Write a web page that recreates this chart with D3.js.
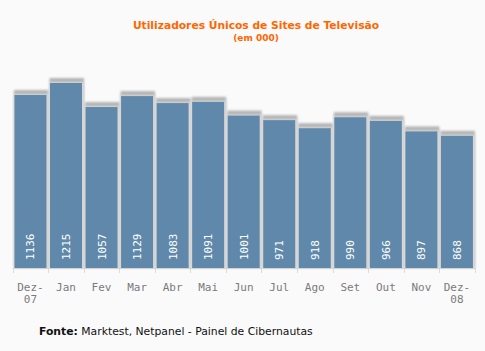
<!DOCTYPE html>
<html>
<head>
<meta charset="utf-8">
<script src="https://cdn.jsdelivr.net/npm/d3@7"></script>
<style>
    html, body { margin: 0; padding: 0; background: #fafafa; }
    svg { display: block; }
</style>
</head>
<body>
<svg id="chart" width="485" height="351"></svg>
<script>
(function () {

    let months = ["Dez-07", "Jan", "Fev", "Mar", "Abr", "Mai", "Jun", "Jul", "Ago", "Set", "Out", "Nov", "Dez-08"];
    let users = [1136, 1215, 1057, 1129, 1083, 1091, 1001, 971, 918, 990, 966, 897, 868];

    let data = months.map((m, i) => ({ month: m, value: users[i] }));

    let canvas = d3.select("#chart");
    let width = +canvas.attr("width");

    canvas.append("rect")
        .attr("width", width)
        .attr("height", +canvas.attr("height"))
        .attr("fill", "#fafafa");

    let defs = canvas.append("defs");
    defs.append("filter")
        .attr("id", "soft")
        .attr("x", "-20%").attr("y", "-20%")
        .attr("width", "140%").attr("height", "140%")
        .append("feGaussianBlur")
        .attr("stdDeviation", 1.3);

    let xScale = d3.scaleBand()
        .domain(months)
        .range([12.7, 474.7])
        .paddingInner(0.1)
        .paddingOuter(0.05);

    let yScale = d3.scaleLinear()
        .domain([0, 1215])
        .range([268, 83]);

    // title
    canvas.append("text")
        .attr("x", 256)
        .attr("y", 29)
        .attr("text-anchor", "middle")
        .attr("font-family", "DejaVu Sans")
        .attr("font-weight", "bold")
        .attr("font-size", 10.7)
        .attr("fill", "#ff6600")
        .text("Utilizadores Únicos de Sites de Televisão");

    canvas.append("text")
        .attr("x", 256)
        .attr("y", 41)
        .attr("text-anchor", "middle")
        .attr("font-family", "DejaVu Sans")
        .attr("font-weight", "bold")
        .attr("font-size", 9)
        .attr("fill", "#ff6600")
        .text("(em 000)");

    // axis line and ticks
    let gAxis = canvas.append("g").attr("stroke", "#dcdcdc").attr("stroke-width", 1);
    gAxis.append("line")
        .attr("x1", 12.7).attr("x2", 474.7)
        .attr("y1", 268.5).attr("y2", 268.5);
    let tickPos = months.map(m => xScale(m) - xScale.step() * xScale.paddingInner() / 2);
    tickPos.push(474.7);
    gAxis.selectAll("line.tick")
        .data(tickPos)
        .enter()
        .append("line")
        .attr("class", "tick")
        .attr("x1", d => Math.round(d) + 0.5).attr("x2", d => Math.round(d) + 0.5)
        .attr("y1", 268).attr("y2", 273);

    // shadows
    canvas.append("g")
        .selectAll("rect")
        .data(data)
        .enter()
        .append("rect")
        .attr("x", d => xScale(d.month) - 0.5)
        .attr("y", d => yScale(d.value) - 5)
        .attr("width", xScale.bandwidth() + 2.5)
        .attr("height", d => 268 - yScale(d.value) + 5)
        .attr("fill", "#b4b4b4")
        .attr("filter", "url(#soft)");

    canvas.append("g")
        .selectAll("rect")
        .data(data)
        .enter()
        .append("rect")
        .attr("x", d => xScale(d.month) - 0.5)
        .attr("y", d => yScale(d.value) - 1)
        .attr("width", xScale.bandwidth() + 2.5)
        .attr("height", d => 268 - yScale(d.value) + 1)
        .attr("fill", "#dadada")
        .attr("filter", "url(#soft)");

    // bars
    canvas.append("g")
        .selectAll("rect")
        .data(data)
        .enter()
        .append("rect")
        .attr("x", d => xScale(d.month))
        .attr("y", d => yScale(d.value))
        .attr("width", xScale.bandwidth())
        .attr("height", d => 268 - yScale(d.value))
        .attr("fill", "#5f88aa");

    // value labels
    canvas.append("g")
        .selectAll("text")
        .data(data)
        .enter()
        .append("text")
        .attr("transform", d => `translate(${xScale(d.month) + xScale.bandwidth() / 2 + 4}, 260) rotate(-90)`)
        .attr("font-family", "DejaVu Sans Mono")
        .attr("font-size", 11)
        .attr("fill", "#ffffff")
        .text(d => d.value);

    // month labels
    let gLabels = canvas.append("g")
        .attr("font-family", "DejaVu Sans Mono")
        .attr("font-size", 11)
        .attr("fill", "#7a7a7a")
        .attr("text-anchor", "middle");
    gLabels.selectAll("text")
        .data(data)
        .enter()
        .append("text")
        .attr("x", d => xScale(d.month) + xScale.bandwidth() / 2)
        .attr("y", 291)
        .each(function (d) {
            let parts = d.month.split("-");
            let t = d3.select(this);
            if (parts.length === 2) {
                t.append("tspan").attr("x", xScale(d.month) + xScale.bandwidth() / 2).text(parts[0] + "-");
                t.append("tspan").attr("x", xScale(d.month) + xScale.bandwidth() / 2).attr("dy", 12).text(parts[1]);
            } else {
                t.text(d.month);
            }
        });

    // source
    let src = canvas.append("text")
        .attr("x", 39)
        .attr("y", 335)
        .attr("font-family", "DejaVu Sans")
        .attr("font-size", 10.8)
        .attr("fill", "#111");
    src.append("tspan").attr("font-weight", "bold").text("Fonte:");
    src.append("tspan").text(" Marktest, Netpanel - Painel de Cibernautas");

})();
</script>
</body>
</html>
